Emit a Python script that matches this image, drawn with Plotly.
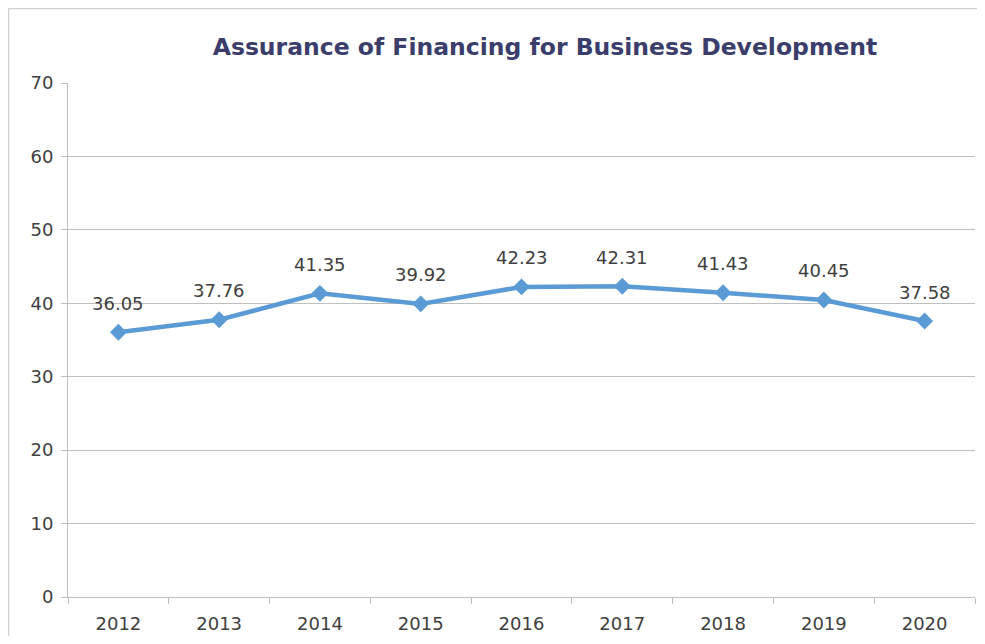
import plotly.graph_objects as go

years = ["2012", "2013", "2014", "2015", "2016", "2017", "2018", "2019", "2020"]
values = [36.05, 37.76, 41.35, 39.92, 42.23, 42.31, 41.43, 40.45, 37.58]
y_ticks = [0, 10, 20, 30, 40, 50, 60, 70]

# page offset from default body margin (kept inside the window, no scrollbars)
OFF = 8
W, H = 985 - 2 * OFF, 644 - 2 * OFF
L = 68 - OFF
T = 83 - OFF
plot_right = 975 - OFF
plot_bottom = 597 - OFF
R = W - plot_right
B = H - plot_bottom
pw, ph = W - L - R, H - T - B

def px_x(p):  # page x -> paper
    return (p - OFF - L) / pw

def px_y(p):  # page y -> paper
    return (plot_bottom - (p - OFF)) / ph

FONT = "DejaVu Sans"
TXT = "#404040"

fig = go.Figure()
fig.add_trace(go.Scatter(
    x=years, y=values, mode="lines+markers",
    line=dict(color="#5b9bd5", width=4.5),
    marker=dict(symbol="diamond", size=13, color="#5b9bd5"),
    hoverinfo="x+y", showlegend=False,
))

for i, v in enumerate(values):
    fig.add_annotation(x=i, y=v, xref="x", yref="y", text=f"{v:.2f}",
                       showarrow=False, yshift=29,
                       font=dict(size=18, color=TXT, family=FONT))

# outer frame
fig.add_shape(type="line", xref="paper", yref="paper",
              x0=px_x(8.5), x1=px_x(1000), y0=px_y(8.5), y1=px_y(8.5),
              line=dict(color="#d0d0d0", width=1.5))
fig.add_shape(type="line", xref="paper", yref="paper",
              x0=px_x(8.5), x1=px_x(8.5), y0=px_y(8.5), y1=px_y(660),
              line=dict(color="#d0d0d0", width=1.5))

fig.update_layout(
    width=W, height=H,
    margin=dict(l=L, r=R, t=T, b=B),
    plot_bgcolor="white", paper_bgcolor="white",
    title=dict(text="<b>Assurance of Financing for Business Development</b>",
               x=(545 - OFF) / W, xanchor="center",
               y=1 - (47 - OFF) / H, yanchor="middle",
               font=dict(size=23.5, color="#3b3d6b", family=FONT)),
    font=dict(family=FONT, color=TXT, size=18),
    xaxis=dict(type="category", showgrid=False, showline=True,
               linecolor="#bfbfbf", linewidth=1,
               ticks="outside", ticklen=6, tickcolor="#bfbfbf",
               tickson="boundaries", tickfont=dict(size=18, color=TXT, family=FONT),
               ticklabelstandoff=10,
               range=[-0.5, 8.5]),
    yaxis=dict(range=[0, 70], tickvals=y_ticks, showgrid=True,
               gridcolor="#bfbfbf", gridwidth=1,
               showline=True, linecolor="#bfbfbf", linewidth=1,
               ticks="outside", ticklen=6, tickcolor="#bfbfbf",
               ticklabelstandoff=4,
               tickfont=dict(size=18, color=TXT, family=FONT), zeroline=False),
)

fig.write_html("out.html")
